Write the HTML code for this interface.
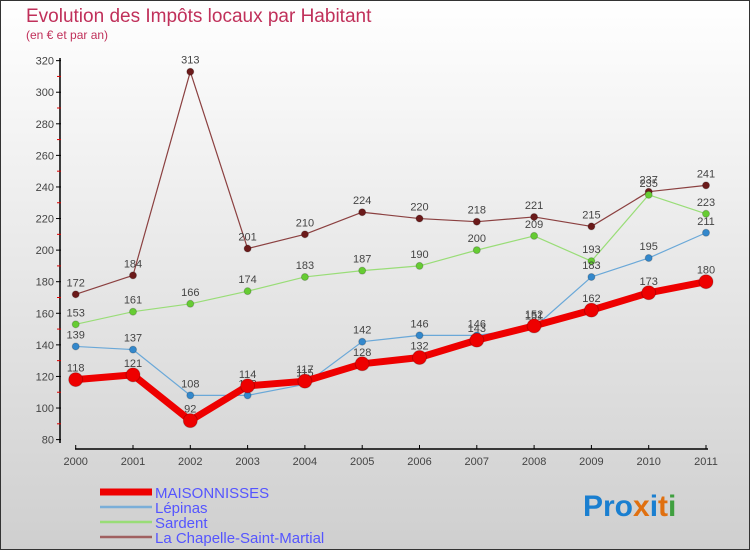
<!DOCTYPE html>
<html><head><meta charset="utf-8"><style>
body{margin:0}
#c{width:750px;height:550px;position:relative;font-family:"Liberation Sans",sans-serif}
</style></head><body>
<div id="c">
<svg id="s" width="750" height="550" xmlns="http://www.w3.org/2000/svg">
<defs><linearGradient id="bg" x1="0" y1="0" x2="0" y2="1"><stop offset="0" stop-color="#ffffff"/><stop offset="1" stop-color="#cfcfcf"/></linearGradient></defs>
<rect x="0.5" y="0.5" width="749" height="549" fill="url(#bg)" stroke="#333"/>
<text x="26" y="22" font-size="19" fill="#c0305a">Evolution des Impôts locaux par Habitant</text>
<text x="26" y="39" font-size="12" fill="#c0305a">(en € et par an)</text>
<g id="axes"></g><g id="series"></g><g id="legend"></g>
<text x="583" y="516" font-size="30" font-weight="bold"><tspan fill="#1a7fd0">Pro</tspan><tspan fill="#e07010">x</tspan><tspan fill="#1a7fd0">i</tspan><tspan fill="#e07010">t</tspan><tspan fill="#40a040">i</tspan></text>
</svg></div>
<script>
const years=[2000,2001,2002,2003,2004,2005,2006,2007,2008,2009,2010,2011];
const yTicks=[80,100,120,140,160,180,200,220,240,260,280,300,320];
const maison=[118,121,92,114,117,128,132,143,152,162,173,180];
const lepinas=[139,137,108,108,115,142,146,146,151,183,195,211];
const sardent=[153,161,166,174,183,187,190,200,209,193,235,223];
const chapelle=[172,184,313,201,210,224,220,218,221,215,237,241];
const NS="http://www.w3.org/2000/svg";
function X(i){return 75.7+i*57.3;}
function Y(v){return 439.6-(v-80)*1.579;}
function mk(t,a,p){const e=document.createElementNS(NS,t);for(const k in a)e.setAttribute(k,a[k]);p.appendChild(e);return e;}
const ax=document.getElementById('axes');
let yl=mk('line',{x1:60,y1:58,x2:60,y2:443,stroke:'#000','stroke-width':1.5},ax);


let xl=mk('line',{x1:75,y1:449,x2:708,y2:449,stroke:'#000','stroke-width':1.5},ax);


yTicks.forEach((v,i)=>{
  mk('line',{x1:56,y1:Y(v),x2:61,y2:Y(v),stroke:'#000'},ax);
  if(i<yTicks.length-1) mk('line',{x1:57,y1:Y(v+10),x2:61,y2:Y(v+10),stroke:'#d00'},ax);
  const t=mk('text',{x:54,y:Y(v)+4,'font-size':11,fill:'#444','text-anchor':'end'},ax);t.textContent=v;
  
  
});
years.forEach((y,i)=>{
  mk('line',{x1:X(i),y1:445,x2:X(i),y2:449,stroke:'#000'},ax);
  const t=mk('text',{x:X(i),y:465,'font-size':11,fill:'#444','text-anchor':'middle'},ax);t.textContent=y;
  
  
});
const sg=document.getElementById('series');
const defs=[[chapelle,'#6b1a1a','#8b4040',1.2,3.5,'chapelle'],[sardent,'#66cc33','#99dd77',1.2,3.5,'sardent'],[lepinas,'#3388cc','#6aa8d8',1.2,3.5,'lepinas'],[maison,'#ee0000','#ee0000',7,7,'maisonnisses']];
defs.forEach(([d,dot,line,w,r,n])=>{
  const g=mk('g',{},sg);
  
  
  const pl=mk('polyline',{points:d.map((v,i)=>X(i)+','+Y(v)).join(' '),fill:'none',stroke:line,'stroke-width':w,'stroke-linejoin':'round'},g);
  
  
  d.forEach((v,i)=>{
    const c=mk('circle',{cx:X(i),cy:Y(v),r:r,fill:dot,stroke:'rgba(0,0,0,0.2)'},g);
    
    
    const t=mk('text',{x:X(i),y:Y(v)-8,'font-size':11,fill:'#444','text-anchor':'middle'},g);t.textContent=v;
    
    
  });
});
const lg=document.getElementById('legend');
[['MAISONNISSES','#ee0000',7],['Lépinas','#7aaed8',2.5],['Sardent','#99dd77',2.5],['La Chapelle-Saint-Martial','#a06060',2.5]].forEach(([n,c,w],i)=>{
  const y=492+i*15;
  const g=mk('g',{},lg);
  
  
  mk('line',{x1:100,y1:y,x2:152,y2:y,stroke:c,'stroke-width':w},g);
  const t=mk('text',{x:155,y:y+6,'font-size':15,fill:'#5555ff'},g);t.textContent=n;
});
</script>
</body></html>
